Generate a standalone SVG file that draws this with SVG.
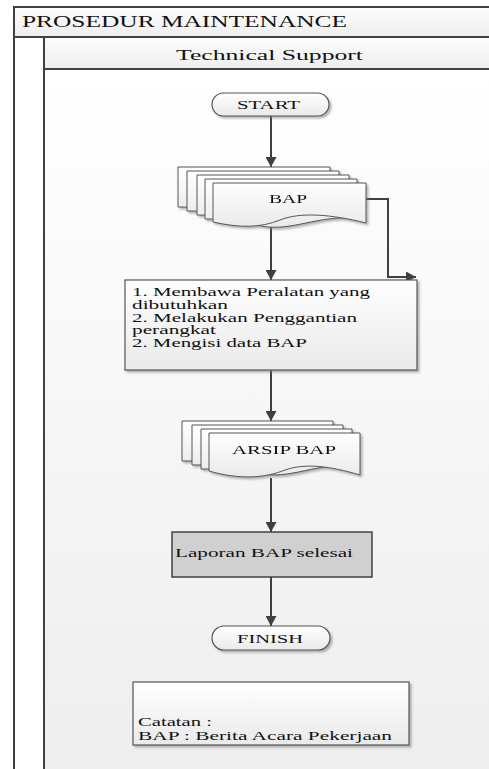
<svg xmlns="http://www.w3.org/2000/svg" width="489" height="769" viewBox="0 0 489 769">
<defs>
<linearGradient id="laneBg" x1="0" y1="0" x2="0" y2="1">
<stop offset="0" stop-color="#ffffff"/>
<stop offset="1" stop-color="#eeeeee"/>
</linearGradient>
<linearGradient id="bandBg" x1="0" y1="0" x2="0" y2="1">
<stop offset="0" stop-color="#fdfdfd"/>
<stop offset="1" stop-color="#eeeeee"/>
</linearGradient>
<linearGradient id="shapeBg" x1="0" y1="0" x2="0" y2="1">
<stop offset="0" stop-color="#ffffff"/>
<stop offset="1" stop-color="#eaeaea"/>
</linearGradient>
<filter id="shadow" x="-10%" y="-10%" width="130%" height="140%">
<feDropShadow dx="2" dy="2" stdDeviation="1" flood-color="#777777" flood-opacity="0.55"/>
</filter>
<marker id="arrow" markerUnits="userSpaceOnUse" markerWidth="11" markerHeight="11" refX="10" refY="5.5" orient="auto">
<path d="M0,0 L10,5.5 L0,11 z" fill="#404040"/>
</marker>
</defs>
<style>
.frame{stroke:#404040;stroke-width:2;fill:none}
.shape{fill:url(#shapeBg);stroke:#555555;stroke-width:1.2;filter:url(#shadow)}
.page{fill:url(#shapeBg);stroke:#555555;stroke-width:1}
.conn{stroke:#404040;stroke-width:2;fill:none;marker-end:url(#arrow)}
text{font-family:"Liberation Serif","Times New Roman",serif;fill:#111111}
.t12{font-size:13px}
.t13{font-size:13px}
.tp{font-size:11.5px}
</style>

<g id="pool">
<rect x="0" y="0" width="489" height="769" fill="#ffffff"/>
<rect x="44" y="69" width="445" height="700" fill="url(#laneBg)"/>
<rect x="14" y="7" width="475" height="30" fill="url(#bandBg)"/>
<rect x="44" y="37" width="445" height="32" fill="url(#bandBg)"/>
<line class="frame" x1="13" y1="7" x2="489" y2="7"/>
<line class="frame" x1="14" y1="7" x2="14" y2="769"/>
<line class="frame" x1="14" y1="37" x2="489" y2="37"/>
<line class="frame" x1="44" y1="37" x2="44" y2="769"/>
<line class="frame" x1="44" y1="69" x2="489" y2="69"/>
<text x="22" y="27" style="font-size:17px" textLength="325" lengthAdjust="spacingAndGlyphs">PROSEDUR MAINTENANCE</text>
<text x="176" y="60" style="font-size:15.5px" textLength="187" lengthAdjust="spacingAndGlyphs">Technical Support</text>
</g>

<g id="connectors">
<line class="conn" x1="271" y1="116" x2="271" y2="167"/>
<line class="conn" x1="271" y1="226" x2="271" y2="280"/>
<polyline class="conn" points="365,199 388,199 388,277 416,277"/>
<line class="conn" x1="271" y1="370" x2="271" y2="421"/>
<line class="conn" x1="271" y1="478" x2="271" y2="532"/>
<line class="conn" x1="271" y1="577" x2="271" y2="626"/>
</g>

<g id="start">
<rect class="shape" x="212" y="93" width="117" height="23" rx="11.5" ry="11.5"/>
<text class="t12" x="237" y="109" textLength="63" lengthAdjust="spacingAndGlyphs">START</text>
</g>

<g id="bap" filter="url(#shadow)">
<path class="page" d="M178,167 H330 V207 C294,201 262,222 230,213 C210,208 195,207 178,207 Z"/>
<path class="page" d="M187,171 H339 V211 C303,205 271,226 239,217 C219,212 204,211 187,211 Z"/>
<path class="page" d="M197,175 H349 V215 C313,209 281,230 249,221 C229,216 214,215 197,215 Z"/>
<path class="page" d="M205,179 H357 V219 C321,213 289,234 257,225 C237,220 222,219 205,219 Z"/>
<path class="page" d="M213,183 H366 V223 C330,214 300,212 280,220 C260,228 240,228 213,222 Z"/>
<text class="t12" x="269" y="203" textLength="38" lengthAdjust="spacingAndGlyphs">BAP</text>
</g>

<g id="process">
<rect class="shape" x="125" y="280" width="292" height="90"/>
<text class="tp" x="132" y="296" textLength="238" lengthAdjust="spacingAndGlyphs">1. Membawa Peralatan yang</text>
<text class="tp" x="132" y="308.8" textLength="96" lengthAdjust="spacingAndGlyphs">dibutuhkan</text>
<text class="tp" x="132" y="321.6" textLength="225" lengthAdjust="spacingAndGlyphs">2. Melakukan Penggantian</text>
<text class="tp" x="132" y="334.4" textLength="84" lengthAdjust="spacingAndGlyphs">perangkat</text>
<text class="tp" x="132" y="347.2" textLength="175" lengthAdjust="spacingAndGlyphs">2. Mengisi data BAP</text>
</g>

<g id="arsip" filter="url(#shadow)">
<path class="page" d="M182,421 H333 V459 C300,453 270,473 240,465 C215,460 200,461 182,461 Z"/>
<path class="page" d="M192,425 H343 V463 C310,457 280,477 250,469 C225,464 210,465 192,465 Z"/>
<path class="page" d="M201,429 H352 V467 C319,461 289,481 259,473 C234,468 219,469 201,469 Z"/>
<path class="page" d="M209,433 H360 V475 C330,466 305,463 285,470 C265,478 240,480 209,471 Z"/>
<text class="t12" x="232" y="454" textLength="104" lengthAdjust="spacingAndGlyphs">ARSIP BAP</text>
</g>

<g id="laporan">
<rect x="172" y="532" width="200" height="45" fill="#d0d0d0" stroke="#404040" stroke-width="1.5"/>
<text class="t13" x="175" y="557" textLength="178" lengthAdjust="spacingAndGlyphs">Laporan BAP selesai</text>
</g>

<g id="finish">
<rect class="shape" x="212" y="626" width="118" height="24" rx="12" ry="12"/>
<text class="t12" x="237" y="642.5" textLength="66" lengthAdjust="spacingAndGlyphs">FINISH</text>
</g>

<g id="catatan">
<rect class="shape" x="133" y="682" width="276" height="63"/>
<text class="tp" x="138" y="726" textLength="74" lengthAdjust="spacingAndGlyphs">Catatan :</text>
<text class="tp" x="138" y="740" textLength="254" lengthAdjust="spacingAndGlyphs">BAP : Berita Acara Pekerjaan</text>
</g>
</svg>
